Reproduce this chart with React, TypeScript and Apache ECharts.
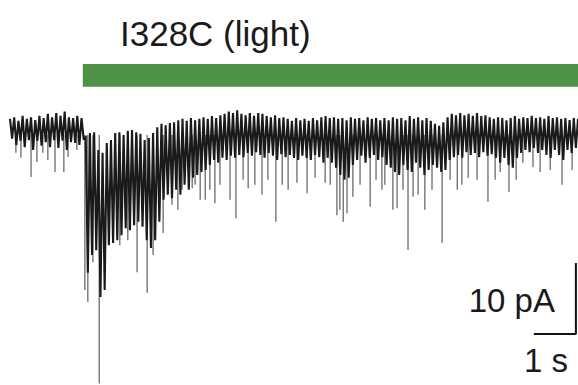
import React, { useEffect, useRef } from "react";
import * as echarts from "echarts";

const TITLE = "I328C (light)";
const BIN_S = 0.1; // seconds per (top, bottom) pair
const X_MAX = 13.5;
const Y_MIN = -36;
const Y_MAX = 10;

// Upper edge of the current trace (pA), one value per 0.1 s bin
const TOPS = [
  1.3, 1.5, 1.0, 1.7, 1.3, 1.5, 1.1, 1.7, 1.4, 2.0, 1.5, 2.1, 1.7, 2.3, 1.5, 1.4, 1.7, 1.4,
  -1.3, -0.7, -0.6, -3.1, -3.5, -2.1, -1.7, -0.7, -0.6, -1.0, -0.4, -0.3, -0.6, -0.8, -1.7, -1.4,
  -0.7, 0.1, 0.6, 0.4, 0.7, 0.8, 1.1, 1.3, 1.0, 1.4, 1.1, 1.3,
  1.5, 1.3, 1.7, 1.4, 1.8, 2.0, 2.3, 2.1, 2.5, 2.0, 1.8, 2.1, 1.7, 2.1, 2.0, 1.7, 1.5, 1.8, 1.4,
  1.5, 1.3, 1.0, 1.4, 1.1, 1.3, 1.0, 1.4, 1.1, 1.5, 1.7, 1.4, 1.5, 1.3, 1.4, 1.1, 1.5, 1.3, 1.4,
  1.1, 1.5, 1.3, 1.4, 1.1,
  1.4, 1.1, 1.5, 1.3, 1.4, 1.1, 1.7, 1.3, 1.5, 1.1, 1.4, 1.0, 0.6, 0.3, 0.8, 1.5, 2.0, 1.8, 2.1,
  1.8, 2.0, 1.7, 2.1, 1.7, 1.8, 1.5, 1.3, 1.5, 1.4, 1.1, 1.4, 1.7, 1.3, 1.5, 1.4, 1.7, 1.4, 1.5,
  1.3, 1.7, 1.4, 1.5, 1.3, 1.4, 1.1, 1.4, 1.3,
];

// Lower edge of the dense part of the trace (pA), one value per bin
const BOTTOMS = [
  -1.5, -2.4, -1.8, -2.7, -1.7, -3.1, -1.8, -2.5, -2.0, -2.7, -1.7, -2.8, -1.8, -3.1, -2.0, -2.1,
  -2.4, -1.5,
  -20.4, -17.9, -17.2, -23.8, -22.8, -16.5, -16.2, -15.8, -15.1, -14.1, -14.4, -13.7, -13.2, -13.9,
  -15.8, -16.9, -15.8, -13.2, -10.1, -9.4, -9.9, -8.7, -9.4, -8.0, -8.7, -7.0, -6.6, -6.2,
  -5.9, -5.2, -4.5, -4.9, -4.2, -4.5, -3.9, -4.2, -3.8, -4.1, -3.5, -3.9, -3.4, -3.8, -4.2, -3.5,
  -3.9, -4.5, -3.7, -4.1, -3.8, -4.2, -4.5, -3.9, -4.2, -4.5, -3.8, -4.1, -4.9, -4.2, -4.9, -5.6,
  -6.6, -7.3, -7.0, -5.2, -4.5, -3.9, -4.9, -4.2, -3.8, -4.5, -4.1,
  -5.2, -5.6, -6.2, -6.6, -5.2, -5.9, -6.2, -4.9, -5.6, -6.6, -5.9, -5.2, -5.6, -6.2, -5.9, -4.5,
  -4.1, -3.8, -4.2, -3.4, -3.8, -3.5, -4.1, -3.4, -3.9, -3.7, -4.2, -4.9, -4.2, -5.2, -5.6, -4.2,
  -3.5, -3.1, -3.4, -2.8, -3.5, -3.1, -3.8, -4.2, -3.1, -3.8, -4.5, -3.1, -3.5, -2.8, -3.1,
];

// Isolated downward events: [time s, peak current pA]
const SPIKES: [number, number][] = [
  [0.14, -3.5], [0.26, -4.2], [0.5, -6.9], [0.64, -4.8], [0.78, -3.5], [0.9, -4.5], [1.07, -6.2],
  [1.28, -6.2], [1.38, -4.1], [1.59, -3.1],
  [1.78, -22.8], [1.85, -24.5], [1.97, -18.9], [2.12, -38], [2.61, -16.5], [2.8, -15.8],
  [3.02, -20.3], [3.26, -23.2], [3.4, -17.9], [3.64, -14.8], [3.85, -10.8], [3.99, -11.5],
  [4.09, -8.7], [4.33, -8.5],
  [4.4, -8.0], [4.52, -10.1], [4.64, -10.1], [4.75, -8.7], [4.87, -10.6], [4.99, -8.0],
  [5.23, -10.1], [5.37, -12.7], [5.54, -7.3], [5.66, -8.5], [5.82, -8.0], [5.99, -9.4],
  [6.13, -7.3], [6.32, -13.2], [6.47, -8.0], [6.61, -8.7], [6.82, -7.7], [7.06, -9.2],
  [7.25, -7.0], [7.49, -7.7], [7.61, -8.0], [7.77, -12.3], [7.84, -11.5], [7.92, -13.2],
  [8.01, -12.0], [8.15, -9.7], [8.32, -8.0], [8.56, -11.1], [8.7, -7.3], [8.84, -8.7],
  [8.91, -8.0], [9.1, -11.5], [9.2, -11.3], [9.34, -8.7], [9.46, -17.2], [9.58, -9.7],
  [9.7, -9.4], [9.86, -11.5], [10.03, -8.7], [10.27, -16.2], [10.46, -7.3], [10.63, -8.7],
  [10.74, -8.0], [10.89, -7.0], [11.1, -7.3], [11.36, -10.4], [11.53, -7.3], [11.65, -6.2],
  [11.86, -9.0], [12.03, -7.3], [12.19, -4.9], [12.43, -5.5], [12.6, -6.2], [12.84, -5.9],
  [13.12, -8.0], [13.36, -5.9],
];

const LIGHT_ON = 1.73;
const LIGHT_LEVEL = [5.8, 9.0];
const SCALE_T = [12.45, 13.45]; // 1 s
const SCALE_I = [-29, -19]; // 10 pA

export default function App() {
  const ref = useRef<HTMLDivElement>(null);
  useEffect(() => {
    document.body.style.margin = "0";
    const chart = echarts.init(ref.current!, null, { renderer: "svg" });
    const trace: [number, number][] = [];
    TOPS.forEach((v, k) => {
      trace.push([k * BIN_S, v]);
      trace.push([k * BIN_S + BIN_S / 2, BOTTOMS[k]]);
    });
    const font = '"Liberation Sans", Arial, sans-serif';
    chart.setOption({
      animation: false,
      backgroundColor: "#ffffff",
      grid: { left: 10, right: 0, top: 57, bottom: 1.4 },
      xAxis: { type: "value", min: 0, max: X_MAX, show: false },
      yAxis: { type: "value", min: Y_MIN, max: Y_MAX, show: false },
      series: [
        {
          type: "custom",
          clip: true,
          z: 1,
          data: SPIKES,
          encode: { x: 0, y: 1 },
          renderItem: (params: any, api: any) => {
            const p0 = api.coord([api.value(0), -1]);
            const p1 = api.coord([api.value(0), api.value(1)]);
            return {
              type: "line",
              shape: { x1: p0[0], y1: p0[1], x2: p1[0], y2: p1[1] },
              style: { stroke: "#5e5e5e", lineWidth: 1.2 },
            };
          },
        },
        {
          type: "line",
          z: 2,
          data: trace,
          symbol: "none",
          clip: true,
          lineStyle: { color: "#1a1a1a", width: 2.1, join: "miter" },
          markArea: {
            silent: true,
            itemStyle: { color: "#4f9146" },
            data: [[{ xAxis: LIGHT_ON, yAxis: LIGHT_LEVEL[0] }, { xAxis: X_MAX, yAxis: LIGHT_LEVEL[1] }]],
          },
        },
        {
          type: "line",
          z: 3,
          clip: false,
          symbol: "none",
          data: [
            [SCALE_T[0], SCALE_I[0]],
            [SCALE_T[1], SCALE_I[0]],
            [SCALE_T[1], SCALE_I[1]],
          ],
          lineStyle: { color: "#111111", width: 2 },
        },
      ],
      graphic: [
        {
          type: "text",
          x: 120,
          y: 33,
          style: { text: TITLE, fontSize: 35, fontFamily: font, fill: "#1a1a1a", align: "left", verticalAlign: "middle" },
        },
        {
          type: "text",
          x: 555,
          y: 300,
          style: { text: "10 pA", fontSize: 33, fontFamily: font, fill: "#1a1a1a", align: "right", verticalAlign: "middle" },
        },
        {
          type: "text",
          x: 546,
          y: 360,
          style: { text: "1 s", fontSize: 33, fontFamily: font, fill: "#1a1a1a", align: "center", verticalAlign: "middle" },
        },
      ],
    });
    return () => chart.dispose();
  }, []);
  return <div ref={ref} style={{ width: 578, height: 385 }} />;
}
